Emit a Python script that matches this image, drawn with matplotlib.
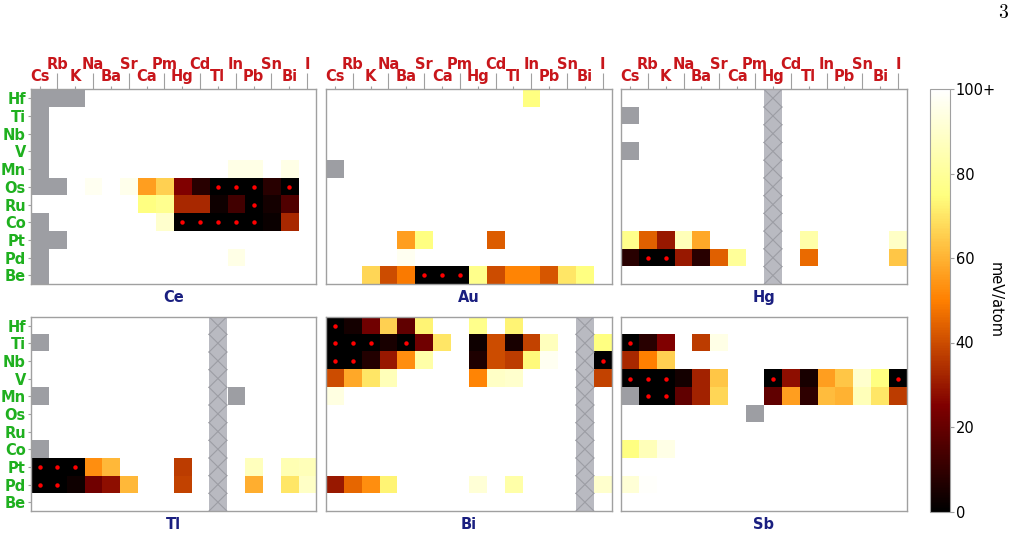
import numpy as np
import matplotlib
matplotlib.use("Agg")
import matplotlib.pyplot as plt

plt.rcParams['mathtext.fontset'] = 'cm'

columns = ['Cs', 'Rb', 'K', 'Na', 'Ba', 'Sr', 'Ca', 'Pm', 'Hg', 'Cd', 'Tl', 'In', 'Pb', 'Sn', 'Bi', 'I']
rows = ['Hf', 'Ti', 'Nb', 'V', 'Mn', 'Os', 'Ru', 'Co', 'Pt', 'Pd', 'Be']
panels = ['Ce', 'Au', 'Hg', 'Tl', 'Bi', 'Sb']

N = np.nan
W = 100

Ce = [
    [N, N, N, W, W, W, W, W, W, W, W, W, W, W, W, W],
    [N, W, W, W, W, W, W, W, W, W, W, W, W, W, W, W],
    [N, W, W, W, W, W, W, W, W, W, W, W, W, W, W, W],
    [N, W, W, W, W, W, W, W, W, W, W, W, W, W, W, W],
    [N, W, W, W, W, W, W, W, W, W, W, 95, 95, W, 95, W],
    [N, N, W, 97, W, 96, 56, 66, 25, 8, 0, 0, 0, 8, 0, W],
    [W, W, W, W, W, W, 75, 78, 33, 33, 3, 13, 0, 4, 16, W],
    [N, W, W, W, W, W, W, 90, 0, 0, 0, 0, 0, 2, 33, W],
    [N, N, W, W, W, W, W, W, W, W, W, W, W, W, W, W],
    [N, W, W, W, W, W, W, W, W, W, W, 95, W, W, W, W],
    [N, W, W, W, W, W, W, W, W, W, W, W, W, W, W, W],
]

Au = [
    [W, W, W, W, W, W, W, W, W, W, W, 75, W, W, W, W],
    [W, W, W, W, W, W, W, W, W, W, W, W, W, W, W, W],
    [W, W, W, W, W, W, W, W, W, W, W, W, W, W, W, W],
    [W, W, W, W, W, W, W, W, W, W, W, W, W, W, W, W],
    [N, W, W, W, W, W, W, W, W, W, W, W, W, W, W, W],
    [W, W, W, W, W, W, W, W, W, W, W, W, W, W, W, W],
    [W, W, W, W, W, W, W, W, W, W, W, W, W, W, W, W],
    [W, W, W, W, W, W, W, W, W, W, W, W, W, W, W, W],
    [W, W, W, W, 56, 75, W, W, W, 43, W, W, W, W, W, W],
    [W, W, W, W, 97, W, W, W, W, W, W, W, W, W, W, W],
    [W, W, 67, 40, 49, 0, 0, 0, 77, 40, 51, 51, 42, 70, 75, W],
]

Hg = [
    [W, W, W, W, W, W, W, W, W, W, W, W, W, W, W, W],
    [N, W, W, W, W, W, W, W, W, W, W, W, W, W, W, W],
    [W, W, W, W, W, W, W, W, W, W, W, W, W, W, W, W],
    [N, W, W, W, W, W, W, W, W, W, W, W, W, W, W, W],
    [W, W, W, W, W, W, W, W, W, W, W, W, W, W, W, W],
    [W, W, W, W, W, W, W, W, W, W, W, W, W, W, W, W],
    [W, W, W, W, W, W, W, W, W, W, W, W, W, W, W, W],
    [W, W, W, W, W, W, W, W, W, W, W, W, W, W, W, W],
    [77, 44, 30, 86, 58, W, W, W, W, W, 83, W, W, W, W, 89],
    [8, 0, 0, 30, 8, 44, 80, W, W, W, 46, W, W, W, W, 64],
    [W, W, W, W, W, W, W, W, W, W, W, W, W, W, W, W],
]

Tl = [
    [W, W, W, W, W, W, W, W, W, W, W, W, W, W, W, W],
    [N, W, W, W, W, W, W, W, W, W, W, W, W, W, W, W],
    [W, W, W, W, W, W, W, W, W, W, W, W, W, W, W, W],
    [W, W, W, W, W, W, W, W, W, W, W, W, W, W, W, W],
    [N, W, W, W, W, W, W, W, W, W, W, N, W, W, W, W],
    [W, W, W, W, W, W, W, W, W, W, W, W, W, W, W, W],
    [W, W, W, W, W, W, W, W, W, W, W, W, W, W, W, W],
    [N, W, W, W, W, W, W, W, W, W, W, W, W, W, W, W],
    [0, 0, 0, 53, 61, W, W, W, 37, W, W, W, 87, W, 85, 86],
    [0, 0, 3, 22, 28, 61, W, W, 38, W, W, W, 59, W, 70, 89],
    [W, W, W, W, W, W, W, W, W, W, W, W, W, W, W, W],
]

Bi = [
    [0, 4, 22, 66, 19, 73, W, W, 77, W, 73, W, W, W, W, W],
    [0, 0, 0, 5, 0, 22, 70, W, 3, 40, 5, 38, 87, W, W, 75],
    [0, 0, 7, 30, 53, 83, W, W, 6, 40, 37, 74, 97, W, W, 0],
    [40, 58, 70, 86, W, W, W, W, 51, 89, 90, W, W, W, W, 38],
    [94, W, W, W, W, W, W, W, W, W, W, W, W, W, W, W],
    [W, W, W, W, W, W, W, W, W, W, W, W, W, W, W, W],
    [W, W, W, W, W, W, W, W, W, W, W, W, W, W, W, W],
    [W, W, W, W, W, W, W, W, W, W, W, W, W, W, W, W],
    [W, W, W, W, W, W, W, W, W, W, W, W, W, W, W, W],
    [30, 45, 53, 73, W, W, W, W, 92, W, 83, W, W, W, W, 90],
    [W, W, W, W, W, W, W, W, W, W, W, W, W, W, W, W],
]

Sb = [
    [W, W, W, W, W, W, W, W, W, W, W, W, W, W, W, W],
    [0, 8, 25, W, 37, 95, W, W, W, W, W, W, W, W, W, W],
    [33, 50, 66, W, W, W, W, W, W, W, W, W, W, W, W, W],
    [0, 0, 0, 4, 32, 64, W, W, 0, 28, 5, 56, 64, 90, 75, 0],
    [N, 0, 0, 19, 32, 67, W, W, 19, 56, 9, 62, 60, 86, 70, 37],
    [W, W, W, W, W, W, W, N, W, W, W, W, W, W, W, W],
    [W, W, W, W, W, W, W, W, W, W, W, W, W, W, W, W],
    [75, 86, 95, W, W, W, W, W, W, W, W, W, W, W, W, W],
    [W, W, W, W, W, W, W, W, W, W, W, W, W, W, W, W],
    [92, 99, W, W, W, W, W, W, W, W, W, W, W, W, W, W],
    [W, W, W, W, W, W, W, W, W, W, W, W, W, W, W, W],
]

panel_data = {'Ce': Ce, 'Au': Au, 'Hg': Hg, 'Tl': Tl, 'Bi': Bi, 'Sb': Sb}

cbar_ticks = [0, 20, 40, 60, 80, 100]
cbar_labels = ['0', '20', '40', '60', '80', '100+']

# ---- styling ----
FW, FH = 1016, 535
red = '#c8161b'
green = '#1fb01f'
navy = '#1a1f80'
spine_col = '#a0a0a0'
nan_col = '#9d9ea3'
hatch_face = '#b9bac1'
hatch_line = '#9c9da4'
LABEL_FS = 10.5

cmap = plt.get_cmap('afmhot').copy()
cmap.set_bad(nan_col)

fig = plt.figure(figsize=(FW / 100, FH / 100), dpi=100)

xcols = [(30.7, 316.0), (326.0, 611.7), (621.0, 907.0)]
yrows = [(89.3, 284.3), (316.7, 511.0)]

def px_rect(x0, x1, y0, y1):
    return [x0 / FW, 1 - y1 / FH, (x1 - x0) / FW, (y1 - y0) / FH]

im = None
for i, name in enumerate(panels):
    r, c = divmod(i, 3)
    ax = fig.add_axes(px_rect(xcols[c][0], xcols[c][1], yrows[r][0], yrows[r][1]))
    arr = np.array(panel_data[name], dtype=float)
    masked = np.ma.masked_invalid(arr)
    im = ax.imshow(masked, cmap=cmap, vmin=0, vmax=100, aspect='auto',
                   interpolation='nearest')
    # same-element column: hatched
    if name in columns:
        ci = columns.index(name)
        for ri in range(len(rows)):
            ax.add_patch(plt.Rectangle((ci - 0.5, ri - 0.5), 1, 1,
                                       facecolor=hatch_face, edgecolor='none', zorder=2))
            ax.plot([ci - 0.5, ci + 0.5], [ri - 0.5, ri + 0.5], color=hatch_line, lw=0.8, zorder=3)
            ax.plot([ci - 0.5, ci + 0.5], [ri + 0.5, ri - 0.5], color=hatch_line, lw=0.8, zorder=3)
    # stable markers
    rr, cc = np.where(arr == 0)
    mask = np.array([columns[k] != name for k in cc], dtype=bool) if len(cc) else np.array([], bool)
    ax.plot(cc[mask], rr[mask], 'o', color='#ff0000', ms=3.2, mec='none', zorder=4)

    ax.set_xlim(-0.5, len(columns) - 0.5)
    ax.set_ylim(len(rows) - 0.5, -0.5)
    for s in ax.spines.values():
        s.set_color(spine_col)
        s.set_linewidth(1.0)

    if r == 0:
        ax.xaxis.tick_top()
        ax.set_xticks(np.arange(0, 16, 2))
        ax.set_xticklabels(columns[0::2])
        ax.set_xticks(np.arange(1, 16, 2), minor=True)
        ax.set_xticklabels(columns[1::2], minor=True)
        ax.tick_params(axis='x', which='major', top=True, bottom=False, labeltop=True,
                       labelbottom=False, length=2.5, pad=1.0, color=spine_col, width=0.8)
        ax.tick_params(axis='x', which='minor', top=True, bottom=False, labeltop=True,
                       labelbottom=False, length=11.5, pad=1.0, color=spine_col, width=0.8)
        for lab in ax.get_xticklabels(which='both'):
            lab.set_color(red)
            lab.set_fontweight('bold')
            lab.set_fontsize(LABEL_FS)
    else:
        ax.set_xticks([])

    if c == 0:
        ax.set_yticks(np.arange(len(rows)))
        ax.set_yticklabels(rows)
        ax.tick_params(axis='y', length=2.5, pad=1.0, color=spine_col, width=0.8)
        for lab in ax.get_yticklabels():
            lab.set_color(green)
            lab.set_fontweight('bold')
            lab.set_fontsize(LABEL_FS)
    else:
        ax.set_yticks([])

    ax.text(0.5, -0.03, name, transform=ax.transAxes, ha='center', va='top',
            fontsize=LABEL_FS, fontweight='bold', color=navy)

cax = fig.add_axes(px_rect(930, 950, 89, 511.5))
cb = fig.colorbar(im, cax=cax, ticks=cbar_ticks)
cb.ax.set_yticklabels(cbar_labels)
cb.outline.set_edgecolor(spine_col)
cb.outline.set_linewidth(0.8)
cb.ax.tick_params(length=3, width=0.8, color=spine_col, labelsize=10.5, pad=1)
cb.set_label('meV/atom', rotation=270, fontsize=10.5, labelpad=5)

fig.text(1003 / FW, 1 - 13 / FH, r'$3$', fontsize=14, ha='center', va='center')

fig.savefig('out.png', dpi=100)
